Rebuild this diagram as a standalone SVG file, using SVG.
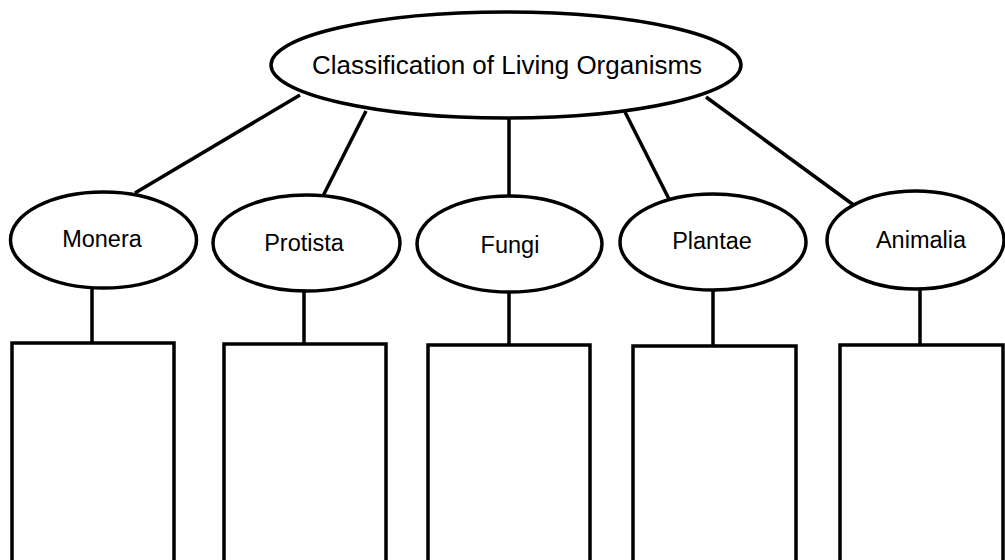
<svg xmlns="http://www.w3.org/2000/svg" width="1005" height="560" viewBox="0 0 1005 560">
<style>
.sh{fill:#fff;stroke:#000;stroke-width:3.5}
.ln{stroke:#000;stroke-width:3.5;fill:none}
.t{font-family:"Liberation Sans",Arial,sans-serif;fill:#000;text-anchor:middle}
.big{font-size:26px}
.sm{font-size:23.5px}
</style>
<rect width="1005" height="560" fill="#fff"/>
<g id="connectors" class="ln">
<line x1="300" y1="95" x2="135" y2="193"/>
<line x1="366" y1="111" x2="323" y2="196"/>
<line x1="509" y1="118" x2="509" y2="197"/>
<line x1="625" y1="112" x2="669" y2="199"/>
<line x1="706" y1="97" x2="855" y2="206"/>
<line x1="92" y1="288" x2="92" y2="343"/>
<line x1="304" y1="291" x2="304" y2="344"/>
<line x1="509" y1="292" x2="509" y2="345"/>
<line x1="713" y1="290" x2="713" y2="346"/>
<line x1="920" y1="289" x2="920" y2="345"/>
</g>
<g id="root">
<ellipse class="sh" cx="506" cy="65" rx="235" ry="53"/>
<text class="t big" x="507" y="74">Classification of Living Organisms</text>
</g>
<g id="monera">
<ellipse class="sh" cx="103.5" cy="240" rx="93" ry="48"/>
<text class="t sm" x="102" y="247">Monera</text>
</g>
<g id="protista">
<ellipse class="sh" cx="306.5" cy="243" rx="93.5" ry="48"/>
<text class="t sm" x="304" y="251">Protista</text>
</g>
<g id="fungi">
<ellipse class="sh" cx="509.5" cy="244" rx="92.5" ry="48"/>
<text class="t sm" x="510" y="253">Fungi</text>
</g>
<g id="plantae">
<ellipse class="sh" cx="713" cy="242" rx="93" ry="48"/>
<text class="t sm" x="712" y="249">Plantae</text>
</g>
<g id="animalia">
<ellipse class="sh" cx="915.5" cy="240" rx="88.5" ry="49"/>
<text class="t sm" x="921" y="248">Animalia</text>
</g>
<g id="box1"><rect class="sh" x="12" y="343" width="162" height="260"/></g>
<g id="box2"><rect class="sh" x="224" y="344" width="162" height="260"/></g>
<g id="box3"><rect class="sh" x="428" y="345" width="162" height="260"/></g>
<g id="box4"><rect class="sh" x="633" y="346" width="163" height="260"/></g>
<g id="box5"><rect class="sh" x="840" y="345" width="163" height="260"/></g>
</svg>
